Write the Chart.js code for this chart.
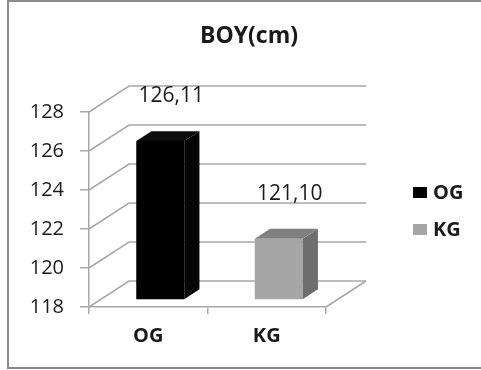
<!DOCTYPE html>
<html>
<head>
<meta charset="utf-8">
<script src="https://cdn.jsdelivr.net/npm/chart.js@4.4.1/dist/chart.umd.min.js"></script>
<style>
  html, body { margin: 0; padding: 0; background: #ffffff; }
  #wrap { width: 481px; height: 370px; position: relative; }
</style>
</head>
<body>
<div id="wrap"><canvas id="c" width="481" height="370"></canvas></div>
<script>
// Chart data
const title = 'BOY(cm)';
const groups = ['OG', 'KG'];
const heights = [126.11, 121.10];
const yTicks = [118, 120, 122, 124, 126, 128];

// Look of the pseudo-3D box and bars
const FONT = '"Open Sans", "DejaVu Sans", sans-serif';
const GRID = '#a8a8a8';
const DEPTH = { x: 40, y: 26 };        // depth of the back wall
const BAR_SHIFT = 0.3;                 // bar front face, fraction of depth
const BAR_DEPTH = 0.38;                // bar thickness, fraction of depth
const faces = [
  { front: '#000000', side: '#050505', top: '#0c0c0c' },
  { front: '#a6a6a6', side: '#6e6e6e', top: '#808080' }
];

const fmt = v => v.toFixed(2).replace('.', ',');

const box3d = {
  id: 'box3d',
  beforeDraw(chart) {
    const { ctx } = chart;
    ctx.save();
    ctx.fillStyle = '#ffffff';
    ctx.fillRect(0, 0, chart.width, chart.height);
    // outer frame
    ctx.strokeStyle = '#8c8c8c';
    ctx.lineWidth = 2;
    ctx.strokeRect(8, 1, 490, 367);
    ctx.restore();
  },
  beforeDatasetsDraw(chart) {
    const { ctx, chartArea: a, scales: { y } } = chart;
    ctx.save();
    ctx.strokeStyle = GRID;
    ctx.lineWidth = 1.5;
    // side wall diagonals and back wall gridlines
    y.ticks.forEach(t => {
      const py = y.getPixelForValue(t.value);
      ctx.beginPath();
      ctx.moveTo(a.left, py);
      ctx.lineTo(a.left + DEPTH.x, py - DEPTH.y);
      ctx.lineTo(a.right + DEPTH.x, py - DEPTH.y);
      ctx.stroke();
    });
    // floor right edge
    ctx.beginPath();
    ctx.moveTo(a.right, a.bottom);
    ctx.lineTo(a.right + DEPTH.x, a.bottom - DEPTH.y);
    ctx.stroke();
    ctx.restore();

    // bars sit partway into the box
    ctx.save();
    ctx.translate(DEPTH.x * BAR_SHIFT, -DEPTH.y * BAR_SHIFT);
  },
  afterDatasetsDraw(chart) {
    const { ctx, scales: { y } } = chart;
    const meta = chart.getDatasetMeta(0);
    const bx = DEPTH.x * BAR_DEPTH, by = DEPTH.y * BAR_DEPTH;
    const bot = y.getPixelForValue(y.min);
    meta.data.forEach((el, i) => {
      const l = el.x - el.width / 2, r = el.x + el.width / 2;
      const top = el.y;
      const c = faces[i];
      ctx.fillStyle = c.side;
      ctx.beginPath();
      ctx.moveTo(r, top); ctx.lineTo(r + bx, top - by);
      ctx.lineTo(r + bx, bot - by); ctx.lineTo(r, bot);
      ctx.closePath(); ctx.fill();
      ctx.fillStyle = c.top;
      ctx.beginPath();
      ctx.moveTo(l, top); ctx.lineTo(l + bx, top - by);
      ctx.lineTo(r + bx, top - by); ctx.lineTo(r, top);
      ctx.closePath(); ctx.fill();
    });
    ctx.restore();

    // value labels
    ctx.save();
    ctx.font = '21px ' + FONT;
    ctx.fillStyle = '#1a1a1a';
    ctx.textAlign = 'center';
    ctx.textBaseline = 'middle';
    meta.data.forEach((el, i) => {
      const v = chart.data.datasets[0].data[i];
      ctx.fillText(fmt(v), el.x + 23, el.y - 53);
    });
    ctx.restore();
  },
  afterDraw(chart) {
    const { ctx } = chart;
    ctx.save();
    // title
    ctx.font = 'bold 23px ' + FONT;
    ctx.fillStyle = '#1a1a1a';
    ctx.textAlign = 'center';
    ctx.textBaseline = 'middle';
    ctx.fillText(title, 249, 36);
    // legend
    ctx.font = 'bold 20px ' + FONT;
    ctx.textAlign = 'left';
    groups.forEach((g, i) => {
      const cy = 192 + i * 37;
      ctx.fillStyle = faces[i].front;
      ctx.fillRect(413, cy - 5, 14, 11);
      ctx.fillStyle = '#1a1a1a';
      ctx.fillText(g, 433, cy + 1);
    });
    ctx.restore();
  }
};

new Chart(document.getElementById('c'), {
  type: 'bar',
  data: {
    labels: groups,
    datasets: [{
      label: title,
      data: heights,
      backgroundColor: faces.map(f => f.front),
      borderWidth: 0,
      categoryPercentage: 1,
      barPercentage: 0.405
    }]
  },
  options: {
    responsive: false,
    animation: false,
    devicePixelRatio: 1,
    layout: { padding: { left: 0, right: 155, top: 112, bottom: 0 } },
    plugins: {
      legend: { display: false },
      title: { display: false },
      tooltip: { enabled: false }
    },
    scales: {
      y: {
        min: 118,
        max: 128,
        afterBuildTicks: s => { s.ticks = yTicks.map(v => ({ value: v })); },
        afterFit: s => { s.width = 89; },
        ticks: {
          font: { family: FONT, size: 20 },
          color: '#1a1a1a',
          padding: 16
        },
        grid: {
          drawOnChartArea: false,
          tickLength: 9,
          color: GRID,
          lineWidth: 1.5
        },
        border: { color: GRID, width: 1.5 }
      },
      x: {
        afterFit: s => { s.height = 63; },
        ticks: {
          font: { family: FONT, size: 20, weight: 'bold' },
          color: '#1a1a1a',
          padding: 10
        },
        grid: {
          offset: true,
          drawOnChartArea: false,
          tickLength: 7,
          color: GRID,
          lineWidth: 1.5
        },
        border: { color: GRID, width: 1.5 }
      }
    }
  },
  plugins: [box3d]
});
</script>
</body>
</html>
